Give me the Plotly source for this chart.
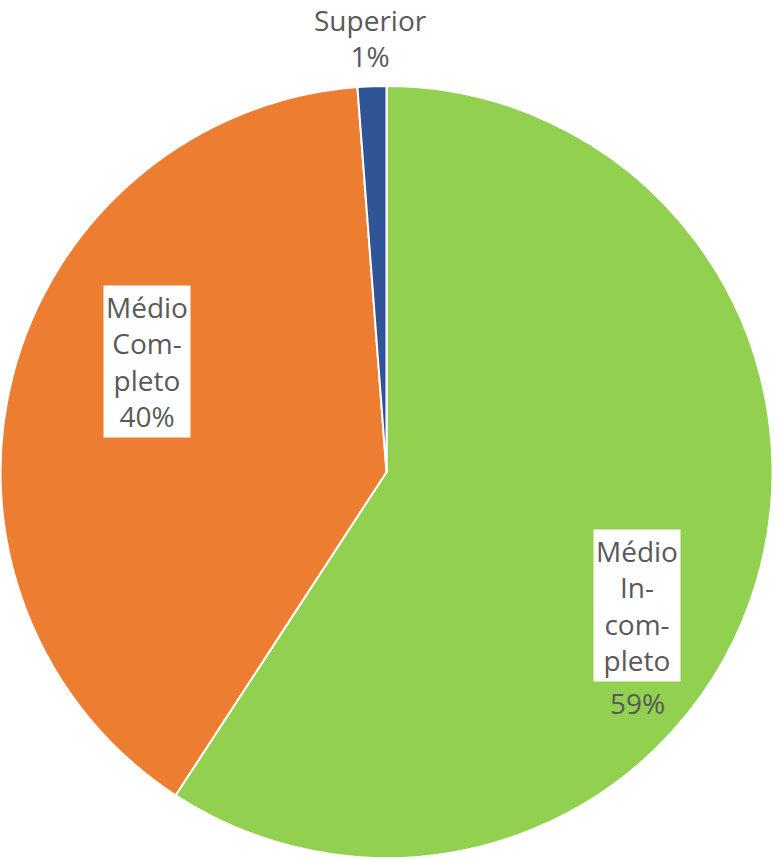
import plotly.graph_objects as go

categorias = ["Médio Incompleto", "Médio Completo", "Superior"]
valores = [59.2, 39.6, 1.2]
cores = ["#92D050", "#ED7D31", "#2F5597"]

W, H = 777, 861
fonte = dict(family="Open Sans, sans-serif", size=28, color="#595959")

fig = go.Figure(go.Pie(
    labels=categorias,
    values=valores,
    sort=False,
    direction="clockwise",
    rotation=0,
    marker=dict(colors=cores, line=dict(color="white", width=2)),
    textinfo="none",
    hoverinfo="label+percent",
    domain=dict(x=[0, 773 / W], y=[3 / H, 775 / H]),
    showlegend=False,
))

pct = [round(v / sum(valores) * 100) for v in valores]

# rótulos posicionados como no original
rot = dict(xref="paper", yref="paper", showarrow=False, font=fonte,
           xanchor="center", yanchor="middle")
fig.add_annotation(x=370 / W, y=1 - 38 / H, text=f"Superior<br>{pct[2]}%", **rot)
fig.add_annotation(x=147 / W, y=1 - 361 / H,
                   text=f"Médio<br>Com-<br>pleto<br>{pct[1]}%",
                   bgcolor="white", borderpad=2, **rot)
fig.add_annotation(x=637 / W, y=1 - 605 / H,
                   text="Médio<br>In-<br>com-<br>pleto",
                   bgcolor="white", borderpad=2, **rot)
fig.add_annotation(x=637 / W, y=1 - 703 / H, text=f"{pct[0]}%", **rot)

fig.update_layout(
    width=W, height=H,
    margin=dict(l=0, r=0, t=0, b=0),
    paper_bgcolor="white",
    plot_bgcolor="white",
)

fig.write_html("out.html", config={"displayModeBar": False},
               post_script="document.body.style.margin='0';")
